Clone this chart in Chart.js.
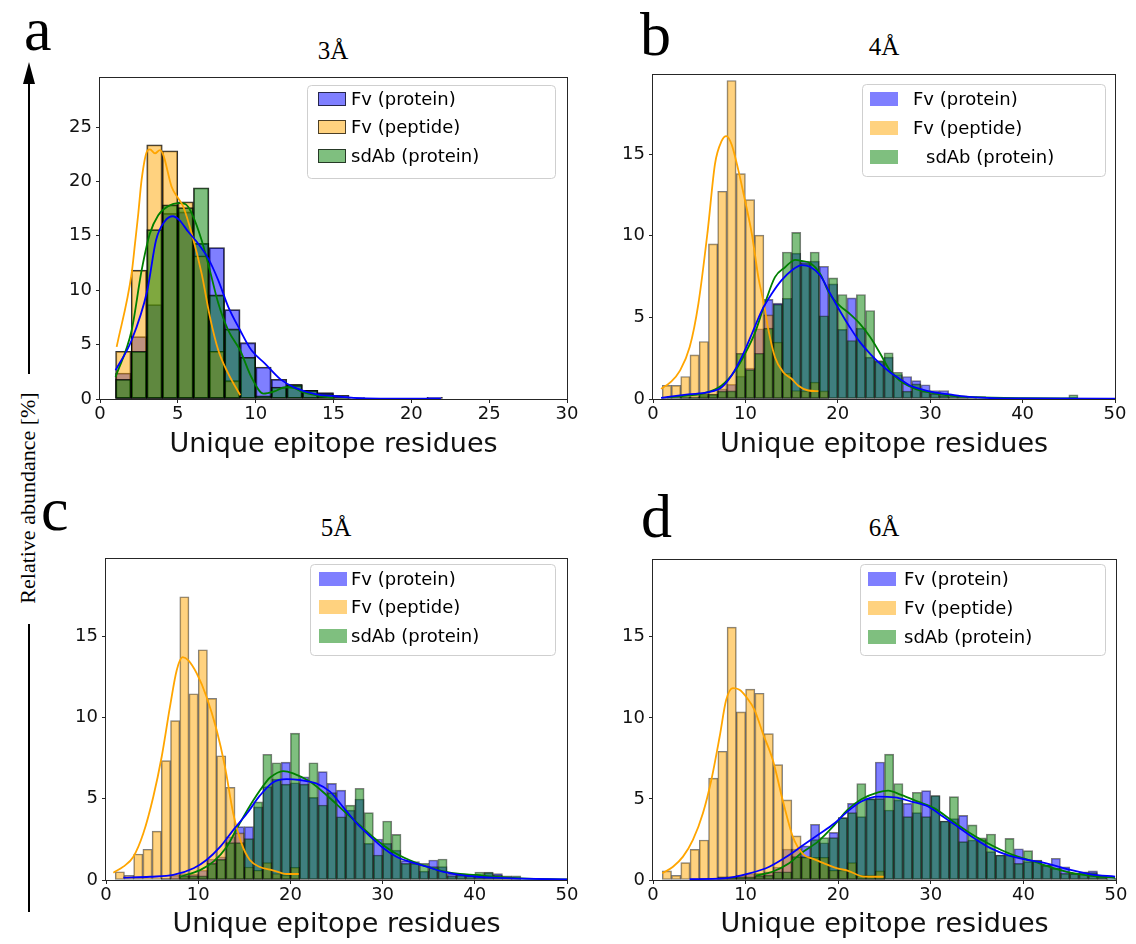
<!DOCTYPE html>
<html><head><meta charset="utf-8">
<script src="https://cdn.jsdelivr.net/npm/chart.js@4.4.1/dist/chart.umd.min.js"></script>
<style>
html,body{margin:0;padding:0;background:#fff;}
body{width:1136px;height:944px;position:relative;overflow:hidden;}
canvas.pc{position:absolute;}
#ov{position:absolute;left:0;top:0;}
</style></head><body>
<svg id="ov" width="1136" height="944" xmlns="http://www.w3.org/2000/svg">
  <g font-family="Liberation Serif, Times New Roman, serif" fill="#000">
    <text x="24" y="50" font-size="62">a</text>
    <text x="640" y="55" font-size="62">b</text>
    <text x="41" y="530" font-size="62">c</text>
    <text x="641" y="537" font-size="62">d</text>
    <text x="333" y="59" font-size="25" text-anchor="middle">3Å</text>
    <text x="884" y="55" font-size="25" text-anchor="middle">4Å</text>
    <text x="336" y="536" font-size="25" text-anchor="middle">5Å</text>
    <text x="884" y="536" font-size="25" text-anchor="middle">6Å</text>
    <text transform="translate(27,498) rotate(-90)" text-anchor="middle" dominant-baseline="central" font-size="22">Relative abundance [%]</text>
  </g>
  <line x1="29" y1="80" x2="29" y2="374" stroke="#000" stroke-width="2"/>
  <polygon points="29,62 23,84 35,84" fill="#000"/>
  <line x1="29" y1="624" x2="29" y2="912" stroke="#000" stroke-width="2"/>
</svg>
<canvas id="ca" class="pc"></canvas>
<canvas id="cb" class="pc"></canvas>
<canvas id="cc" class="pc"></canvas>
<canvas id="cd" class="pc"></canvas>
<script>
// ---------- DATA (bins are 1 residue wide, first bin starts at 1) ----------
const BIN_START = 1;
const SERIES = ['Fv (protein)', 'Fv (peptide)', 'sdAb (protein)'];
const X_LABEL = 'Unique epitope residues';

// Panel a (3Å)
const a_x_ticks = [0, 5, 10, 15, 20, 25, 30];
const a_y_ticks = [0, 5, 10, 15, 20, 25];
const a_fv_protein = [2.39, 5.74, 8.68, 17.06, 17.2, 14.3, 13.93, 8.22, 5.18, 2.94, 1.81, 1.25, 0.8, 0.6, 0.34, 0.12, 0, 0, 0, 0, 0.15];
const a_fv_peptide = [4.39, 11.84, 23.37, 22.82, 18.13, 13.16, 4.39, 1.69];
const a_sdab_protein = [1.81, 4.39, 15.58, 17.85, 17.6, 19.42, 9.57, 6.44, 3.83, 0.3, 1.1, 1.35, 0.8, 0.5, 0.1];
const a_kde_fv_protein = [[1.0,2.64],[2.03,5.4],[3.04,10.0],[3.6,14.6],[4.14,16.3],[4.68,16.8],[5.1,16.44],[5.67,15.37],[6.3,14.3],[6.96,12.9],[7.6,10.9],[8.24,8.47],[9.01,6.3],[9.73,4.48],[10.6,3.25],[11.6,1.8],[12.5,1.05],[13.9,0.43],[15.0,0.28],[16.3,0.1],[18,0.03],[21.9,0.03]];
const a_kde_fv_peptide = [[1.07,4.79],[2.03,11.53],[2.25,14.3],[2.46,17.05],[2.67,20.12],[3.04,22.82],[3.21,22.94],[3.53,22.58],[3.85,22.88],[4.07,22.42],[4.6,19.51],[5.03,18.44],[5.35,17.67],[5.89,15.21],[6.53,11.53],[7.06,7.55],[7.6,4.48],[8.24,2.33],[9.01,0.34]];
const a_kde_sdab_protein = [[1.0,2.02],[2.03,6.3],[2.67,11.8],[3.2,15.2],[3.74,16.9],[4.35,17.7],[5.1,18.0],[5.5,17.9],[5.9,17.05],[6.53,14.6],[7.06,11.8],[7.6,8.8],[8.24,6.3],[9.0,4.48],[9.73,2.0],[10.5,0.5],[11.2,0.7],[11.9,1.08],[12.5,1.0],[13.0,0.65],[13.9,0.34],[15.0,0.1]];

// Panel b (4Å)
const b_x_ticks = [0, 10, 20, 30, 40, 50];
const b_y_ticks = [0, 5, 10, 15];
const b_fv_protein = [0.1,0.1,0.1,0.15,0.2,0.3,0.62,0.9,1.4,1.9,4.3,6.1,5.87,6.17,8.93,8.45,8.44,8.13,7.05,4.26,6.19,4.34,2.56,2.3,2.56,1.5,1.38,1.13,0.87,0.52,0.52,0.2,0.2,0.15,0.15,0.1];
const b_fv_peptide = [0.83,0.83,1.38,2.7,3.52,9.5,12.72,19.5,13.8,12.21,10.03,5.15,3.48,1.58,0.52,0.5,1.03,0.5];
const b_sdab_protein = [0,0,0.1,0.1,0.3,0.3,0.48,0.5,2.8,1.8,2.8,4.34,5.8,9.0,10.2,8.3,9.0,5.1,7.42,6.4,3.58,6.4,5.42,2.36,2.83,1.64,0.48,0.93,0.48,0.32,0.21,0.1,0.15,0.1,0,0,0,0,0,0,0,0,0,0,0.26];
const b_kde_fv_protein = [[0.87,0.07],[3.8,0.28],[6.0,0.42],[7.43,0.72],[8.5,1.44],[9.6,2.56],[10.7,3.99],[11.76,5.4],[12.85,6.44],[13.9,7.26],[15.0,7.87],[16.1,8.2],[17.0,8.1],[18.1,7.56],[19.1,6.54],[20.2,5.42],[21.3,4.4],[22.4,3.48],[23.5,2.77],[24.6,2.15],[25.65,1.64],[26.7,1.23],[27.8,0.83],[28.9,0.62],[30.3,0.42],[32.1,0.28],[33.9,0.15],[36.1,0.07],[40,0.03],[50,0.02]];
const b_kde_fv_peptide = [[0.87,0.62],[1.9,1.03],[2.92,1.74],[3.97,3.18],[4.91,5.83],[5.92,10.3],[6.71,14.4],[7.43,15.8],[7.94,16.1],[8.5,15.6],[9.24,14.0],[9.96,12.15],[10.7,10.1],[11.4,7.46],[12.0,5.83],[12.5,4.2],[13.2,2.56],[14.1,1.64],[15.0,1.24],[15.7,0.83],[16.8,0.52],[17.9,0.48]];
const b_kde_sdab_protein = [[1.5,0.1],[3.8,0.21],[5.6,0.36],[7.43,0.83],[8.9,1.74],[9.96,2.77],[11.0,4.0],[12.1,5.83],[13.2,7.46],[14.3,8.07],[15.4,8.52],[16.1,8.45],[17.0,8.32],[18.1,7.66],[19.1,6.44],[20.2,5.72],[21.3,5.21],[22.4,4.6],[23.5,3.79],[24.6,2.77],[25.65,1.74],[26.7,1.13],[27.8,0.77],[28.9,0.52],[30.3,0.36],[32.1,0.21],[34.6,0.11],[40,0.05],[46,0.04]];

// Panel c (5Å)
const c_x_ticks = [0, 10, 20, 30, 40, 50];
const c_y_ticks = [0, 5, 10, 15];
const c_fv_protein = [0,0,0,0,0,0.1,0.3,0.4,0.35,0.6,1.29,1.43,2.66,3.28,3.28,4.5,5.74,6.2,7.25,5.98,6.35,5.08,6.66,5.94,5.53,4.3,4.98,2.25,2.52,2.25,1.84,1.19,1.13,0.55,1.23,0.82,0.37,0.37,0.31,0.3,0.45,0.39,0.2,0.1];
const c_fv_peptide = [0.51,0.29,1.6,1.89,3.01,7.34,9.8,17.42,11.45,14.16,11.17,7.64,5.7,2.9,0.8,0.6,1.07,0.4,0.3,0.78];
const c_sdab_protein = [0,0,0,0,0,0,0,0.25,0.25,0.25,1.02,1.27,2.3,2.3,2.54,4.8,7.73,7.21,5.9,9.03,5.9,7.21,4.61,5.37,3.89,4.6,5.64,4.14,1.54,3.63,2.81,1.02,1.02,1.02,0.82,1.29,0.25,0.3,0.25,0.49,0.49,0.3,0.25,0.25];
const c_kde_fv_protein = [[1.88,0.14],[4.77,0.2],[7.3,0.31],[9.5,0.72],[10.9,1.23],[12.4,2.05],[13.8,3.07],[15.3,4.1],[16.7,5.2],[18.1,6.0],[19.6,6.2],[21.0,6.15],[22.8,5.94],[24.3,5.43],[25.7,4.5],[27.2,3.48],[28.7,2.66],[30.1,1.95],[31.5,1.43],[32.9,1.13],[34.8,0.82],[36.5,0.51],[38.4,0.31],[40.2,0.2],[42,0.14],[45,0.08],[50,0.03]];
const c_kde_fv_peptide = [[0.8,0.45],[1.88,0.82],[2.97,1.43],[4.05,2.87],[5.13,5.12],[6.04,7.58],[6.94,10.66],[7.67,12.9],[8.32,13.7],[8.93,13.5],[9.84,12.7],[10.9,11.27],[12.0,9.22],[12.9,6.97],[13.8,4.1],[14.7,2.25],[15.6,1.23],[16.7,0.8],[17.8,0.64],[18.9,0.45],[19.6,0.37],[20.9,0.37]];
const c_kde_sdab_protein = [[8.0,0.2],[10.2,0.61],[11.65,1.13],[13.1,2.05],[14.5,3.48],[16.0,4.92],[17.4,6.05],[17.8,6.3],[19.2,6.7],[20.3,6.56],[22.1,6.05],[23.9,5.23],[25.7,4.3],[27.5,3.38],[29.35,2.46],[31.1,1.74],[32.9,1.23],[34.8,0.82],[36.5,0.55],[38.4,0.37],[40.2,0.31],[42,0.2],[45,0.1],[50,0.03]];

// Panel d (6Å)
const d_x_ticks = [0, 10, 20, 30, 40, 50];
const d_y_ticks = [0, 5, 10, 15];
const d_fv_protein = [0,0,0,0,0.1,0.1,0.2,0.2,0.3,0.4,0.41,0.5,0.8,1.91,1.91,2.1,3.44,2.3,2.94,3.85,4.73,3.91,5.02,7.28,4.32,4.94,4.73,4.16,5.51,5.21,3.64,3.79,3.99,2.47,2.5,1.75,1.54,1.54,1.93,1.13,1.2,0.9,1.34,0.82,0.41,0.45,0.56,0.2,0.1];
const d_fv_peptide = [0.56,0.29,1.07,1.89,2.47,6.28,7.94,15.6,10.37,11.77,11.52,9.03,7.12,4.94,2.72,1.4,1.4,1.4,0.6,0.6,1.07,0.3,0.3,0.56];
const d_sdab_protein = [0,0,0,0,0,0,0.2,0.2,0.2,0.2,0.25,0.3,0.51,0.51,1.44,1.45,2.5,2.61,2.61,3.85,4.16,5.95,5.0,5.02,7.76,5.95,3.91,5.41,3.91,5.21,3.64,5.14,2.37,3.4,2.6,2.84,1.54,2.57,1.03,1.81,1.23,0.93,0.72,0.41,0.41,0.51,0.45,0.25,0.05];
const d_kde_fv_protein = [[3.95,0.05],[7.55,0.1],[10.4,0.41],[12.56,0.82],[14.7,1.54],[16.0,2.06],[17.8,2.78],[19.6,3.5],[21.0,4.22],[22.5,4.84],[24.3,5.14],[26.1,5.1],[27.9,4.84],[29.7,4.53],[31.1,4.0],[32.9,3.29],[34.7,2.57],[36.5,1.95],[38.3,1.54],[40.1,1.28],[41.9,1.1],[43.0,0.95],[45.1,0.62],[47.3,0.35],[49.9,0.21]];
const d_kde_fv_peptide = [[1.0,0.41],[2.16,0.82],[3.24,1.44],[4.31,2.47],[5.39,4.12],[6.3,6.17],[7.2,8.85],[7.9,11.1],[8.62,11.83],[9.34,11.73],[10.06,11.3],[10.96,10.5],[11.86,9.05],[12.94,7.4],[14.0,4.94],[15.1,2.67],[16.2,1.6],[17.3,1.3],[18.6,1.0],[19.9,0.72],[21.0,0.58],[22.8,0.21],[24.9,0.2]];
const d_kde_sdab_protein = [[11.1,0.27],[12.9,0.51],[14.7,1.03],[16.0,1.65],[17.8,2.37],[19.6,3.4],[21.0,4.32],[22.5,4.98],[24.3,5.41],[25.4,5.51],[26.8,5.25],[28.6,4.84],[30.4,4.42],[32.2,3.7],[34.0,2.98],[35.8,2.37],[37.6,1.85],[39.4,1.44],[41.2,1.13],[43.0,0.78],[45.1,0.45],[47.3,0.25],[49.9,0.14]];

// ---------- STYLE ----------
const FILL = ['rgba(0,0,255,0.5)', 'rgba(255,165,0,0.5)', 'rgba(0,128,0,0.5)'];
const LINE = ['#0000ff', '#ffa500', '#008000'];
const FONT = 'DejaVu Sans';
Chart.defaults.font.family = FONT;

function barDs(vals, idx, edge, edgeW) {
  const data = [];
  vals.forEach((v, i) => { if (v > 0) data.push({x: BIN_START + i + 0.5, y: v}); });
  return {type: 'bar', label: SERIES[idx], data, backgroundColor: FILL[idx], borderColor: edge,
    borderWidth: edgeW, borderSkipped: false, grouped: false, barPercentage: 1, categoryPercentage: 1,
    order: 3 - idx + 1};
}
function kdeDs(pts, idx) {
  return {type: 'line', label: '_kde', data: pts.map(p => ({x: p[0], y: p[1]})), borderColor: LINE[idx],
    borderWidth: 1.8, pointRadius: 0, cubicInterpolationMode: 'monotone', fill: false, order: 0};
}

function roundRect(ctx, x, y, w, h, r) {
  ctx.beginPath();
  ctx.moveTo(x + r, y); ctx.lineTo(x + w - r, y); ctx.arcTo(x + w, y, x + w, y + r, r);
  ctx.lineTo(x + w, y + h - r); ctx.arcTo(x + w, y + h, x + w - r, y + h, r);
  ctx.lineTo(x + r, y + h); ctx.arcTo(x, y + h, x, y + h - r, r);
  ctx.lineTo(x, y + r); ctx.arcTo(x, y, x + r, y, r); ctx.closePath();
}

const frameLegend = {
  id: 'frameLegend',
  afterDraw(chart, args, o) {
    const ctx = chart.ctx, ca = chart.chartArea;
    ctx.save();
    ctx.strokeStyle = '#262626'; ctx.lineWidth = 1;
    const l = Math.round(ca.left) - 0.5, t = Math.round(ca.top) + 0.5;
    const r = Math.round(ca.right) + 0.5, b = Math.round(ca.bottom) + 0.5;
    ctx.strokeRect(l, t, r - l, b - t);
    const L = o.legend;
    roundRect(ctx, L.x + 0.5, L.y + 0.5, L.w, L.h, 4);
    ctx.fillStyle = 'rgba(255,255,255,0.85)'; ctx.fill();
    ctx.strokeStyle = '#cfcfcf'; ctx.lineWidth = 1; ctx.stroke();
    const bars = chart.data.datasets.filter(d => d.type === 'bar');
    bars.sort((p, q) => SERIES.indexOf(p.label) - SERIES.indexOf(q.label));
    ctx.font = '18px "' + FONT + '"';
    ctx.textBaseline = 'middle'; ctx.textAlign = 'left';
    bars.forEach((d, i) => {
      const yy = L.rows[i];
      ctx.fillStyle = '#fff';
      ctx.fillRect(L.px, yy - L.ph / 2, L.pw, L.ph);
      ctx.fillStyle = d.backgroundColor;
      ctx.fillRect(L.px, yy - L.ph / 2, L.pw, L.ph);
      if (L.pEdge) { ctx.strokeStyle = L.pEdge; ctx.lineWidth = 1; ctx.strokeRect(L.px + 0.5, yy - L.ph / 2 + 0.5, L.pw - 1, L.ph - 1); }
      ctx.fillStyle = '#000';
      ctx.fillText(d.label, L.tx[i], yy + 1);
    });
    ctx.restore();
  }
};

function makePanel(cfg) {
  const cv = document.getElementById(cfg.id);
  cv.width = cfg.cw; cv.height = cfg.ch;
  cv.style.left = cfg.cx + 'px'; cv.style.top = cfg.cy + 'px';
  cv.style.width = cfg.cw + 'px'; cv.style.height = cfg.ch + 'px';
  const F = cfg.frame;
  const padTop = F.t - cfg.cy, padRight = cfg.cx + cfg.cw - F.r;
  const yW = F.l - cfg.cx, xH = cfg.cy + cfg.ch - F.b;
  const titleBottom = (cfg.cy + cfg.ch) - 16.2 - cfg.titleY;
  const lg = cfg.legend;
  const legend = {x: lg.x - cfg.cx, y: lg.y - cfg.cy, w: lg.w, h: lg.h,
    rows: lg.rows.map(v => v - cfg.cy), px: lg.px - cfg.cx, pw: 28, ph: 14,
    tx: lg.tx.map(v => v - cfg.cx), pEdge: lg.pEdge};
  const ds = [
    barDs(cfg.s[0], 0, cfg.edge, cfg.edgeW),
    barDs(cfg.s[1], 1, cfg.edge, cfg.edgeW),
    barDs(cfg.s[2], 2, cfg.edge, cfg.edgeW),
    kdeDs(cfg.k[0], 0), kdeDs(cfg.k[1], 1), kdeDs(cfg.k[2], 2)
  ];
  const tickFont = {family: FONT, size: 18};
  new Chart(cv, {
    type: 'bar',
    data: {datasets: ds},
    options: {
      responsive: false, animation: false, devicePixelRatio: 1,
      layout: {padding: {top: padTop, right: padRight, left: 0, bottom: 0}},
      plugins: {legend: {display: false}, tooltip: {enabled: false}, frameLegend: {legend}},
      scales: {
        x: {type: 'linear', min: 0, max: cfg.xmax, offset: false,
          border: {display: false},
          grid: {drawOnChartArea: false, drawTicks: true, tickLength: 4, color: '#262626', lineWidth: 1, offset: false},
          ticks: {font: tickFont, color: '#111', padding: 1, maxRotation: 0, autoSkip: false},
          afterBuildTicks: s => { s.ticks = cfg.xt.map(v => ({value: v})); },
          afterFit: s => { s.height = xH; },
          title: {display: true, text: X_LABEL, font: {family: FONT, size: 27}, color: '#111',
            padding: {top: 0, bottom: titleBottom}}
        },
        y: {type: 'linear', min: 0, max: cfg.ymax,
          border: {display: false},
          grid: {drawOnChartArea: false, drawTicks: true, tickLength: 4, color: '#262626', lineWidth: 1},
          ticks: {font: tickFont, color: '#111', padding: 4, autoSkip: false},
          afterBuildTicks: s => { s.ticks = cfg.yt.map(v => ({value: v})); },
          afterFit: s => { s.width = yW; }
        }
      }
    },
    plugins: [frameLegend]
  });
}

makePanel({id: 'ca', cx: 40, cy: 55, cw: 540, ch: 425, frame: {l: 100, t: 77, r: 567, b: 399},
  xmax: 30, ymax: 29.6, xt: a_x_ticks, yt: a_y_ticks, titleY: 445,
  s: [a_fv_protein, a_fv_peptide, a_sdab_protein], k: [a_kde_fv_protein, a_kde_fv_peptide, a_kde_sdab_protein],
  edge: 'rgba(0,0,0,0.8)', edgeW: 1.2,
  legend: {x: 307, y: 85, w: 248, h: 93, rows: [99, 127, 156], px: 318, tx: [351, 351, 351], pEdge: 'rgba(0,0,0,0.7)'}});

makePanel({id: 'cb', cx: 600, cy: 55, cw: 530, ch: 425, frame: {l: 653, t: 74, r: 1115, b: 399},
  xmax: 50, ymax: 19.9, xt: b_x_ticks, yt: b_y_ticks, titleY: 445,
  s: [b_fv_protein, b_fv_peptide, b_sdab_protein], k: [b_kde_fv_protein, b_kde_fv_peptide, b_kde_sdab_protein],
  edge: 'rgba(0,0,0,0.5)', edgeW: 1,
  legend: {x: 862, y: 84, w: 243, h: 92, rows: [99, 128, 157], px: 870, tx: [913, 913, 926], pEdge: null}});

makePanel({id: 'cc', cx: 40, cy: 530, cw: 540, ch: 414, frame: {l: 106, t: 558, r: 567, b: 880},
  xmax: 50, ymax: 19.8, xt: c_x_ticks, yt: c_y_ticks, titleY: 925,
  s: [c_fv_protein, c_fv_peptide, c_sdab_protein], k: [c_kde_fv_protein, c_kde_fv_peptide, c_kde_sdab_protein],
  edge: 'rgba(0,0,0,0.5)', edgeW: 1,
  legend: {x: 310, y: 564, w: 245, h: 91, rows: [579, 607, 636], px: 319, tx: [351, 351, 351], pEdge: null}});

makePanel({id: 'cd', cx: 600, cy: 530, cw: 530, ch: 414, frame: {l: 653, t: 559, r: 1116, b: 880},
  xmax: 50, ymax: 19.8, xt: d_x_ticks, yt: d_y_ticks, titleY: 925,
  s: [d_fv_protein, d_fv_peptide, d_sdab_protein], k: [d_kde_fv_protein, d_kde_fv_peptide, d_kde_sdab_protein],
  edge: 'rgba(0,0,0,0.5)', edgeW: 1,
  legend: {x: 860, y: 564, w: 245, h: 91, rows: [579, 608, 637], px: 868, tx: [904, 904, 904], pEdge: null}});
</script>
</body></html>
